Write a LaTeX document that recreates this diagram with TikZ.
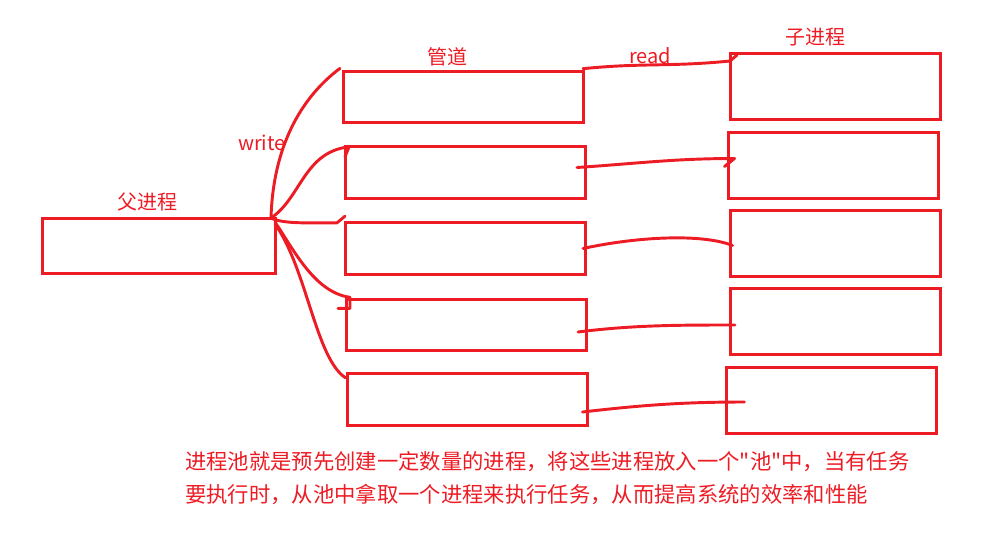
\documentclass[tikz,border=0pt]{standalone}
\usepackage{fontspec}
\newfontfamily\cjk{Noto Sans CJK SC}
\definecolor{pred}{HTML}{ED1C24}
\begin{document}
\begin{tikzpicture}[x=0.75pt,y=-0.75pt,
  box/.style={draw=pred, line width=2.25pt, inner sep=0pt, outer sep=0pt},
  pipebox/.style={box, minimum width=180pt, minimum height=38.5pt},
  childbox/.style={box, minimum width=157.5pt, minimum height=49.5pt},
  wire/.style={draw=pred, line width=2.2pt, line cap=round, line join=round},
  lbl/.style={text=pred, font=\cjk\fontsize{15}{18}\selectfont, inner sep=0pt},
  para/.style={text=pred, font=\cjk\fontsize{16}{20}\selectfont, inner sep=0pt, anchor=west}]
\useasboundingbox (0,0) rectangle (1006,539);
% boxes
\node[box, minimum width=174.75pt, minimum height=41.25pt] (parent) at (158.5,245.5) {};
\node[pipebox] (p1) at (463,97) {};
\node[pipebox] (p2) at (465,172.5) {};
\node[pipebox] (p3) at (465,248.5) {};
\node[pipebox] (p4) at (466,325) {};
\node[pipebox] (p5) at (467.5,399.5) {};
\node[childbox] (c1) at (835,86) {};
\node[childbox] (c2) at (833.5,165.5) {};
\node[childbox] (c3) at (835.5,243.5) {};
\node[childbox] (c4) at (835,321) {};
\node[childbox] (c5) at (831.5,400.5) {};
% labels
\node[lbl] (lparent) at (147,202) {父进程};
\node[lbl] (lpipe) at (447,57) {管道};
\node[lbl] (lread) at (650,56) {read};
\node[lbl] (lchild) at (815,37) {子进程};
\node[lbl] (lwrite) at (262,143) {write};
% parent -> pipes
\draw[wire] ([xshift=-3pt]parent.north east) .. controls +(2,-70) and +(-40,30) .. ([shift={(-3,-3)}]p1.north west);
\draw[wire] ([xshift=-3pt]parent.north east) .. controls +(30,-20) and +(-45,5) .. ([xshift=3]p2.north west) -- +(-4,10);
\draw[wire] ([xshift=-3pt]parent.north east) .. controls +(12,6) and +(-30,0) .. ([shift={(-8,0)}]p3.north west) -- ([yshift=5]p3.north west);
\draw[wire] ([shift={(0,4)}]parent.north east) .. controls +(20,30) and +(-35,-5) .. ([shift={(4,-2)}]p4.north west) -- +(0,11) -- +(-12,11);
\draw[wire] ([shift={(0,6)}]parent.north east) .. controls +(32,45) and +(-30,-20) .. ([shift={(-2,4)}]p5.north west);
% pipes -> children
\draw[wire] ([yshift=2]p1.north east) .. controls +(60,-6) and +(-60,6) .. ([shift={(0,8)}]c1.north west) -- +(7,-6);
\draw[wire] ([shift={(-8,-5)}]p2.east) .. controls +(60,-4) and +(-60,0) .. ([shift={(6,-7)}]c2.west) -- +(-10,8);
\draw[wire] ([shift={(-2,0)}]p3.east) .. controls +(55,-12) and +(-30,-12) .. ([shift={(2,2)}]c3.west);
\draw[wire] ([shift={(-8,7)}]p4.east) .. controls +(55,-7) and +(-55,0) .. ([shift={(5,4)}]c4.west);
\draw[wire] ([shift={(-5,12.5)}]p5.east) .. controls +(60,-7) and +(-60,0) .. ([shift={(18,1.5)}]c5.west);
% paragraph
\node[para] (t1) at (185,462) {进程池就是预先创建一定数量的进程，将这些进程放入一个"池"中，当有任务};
\node[para] (t2) at (185,494) {要执行时，从池中拿取一个进程来执行任务，从而提高系统的效率和性能};
\end{tikzpicture}
\end{document}
